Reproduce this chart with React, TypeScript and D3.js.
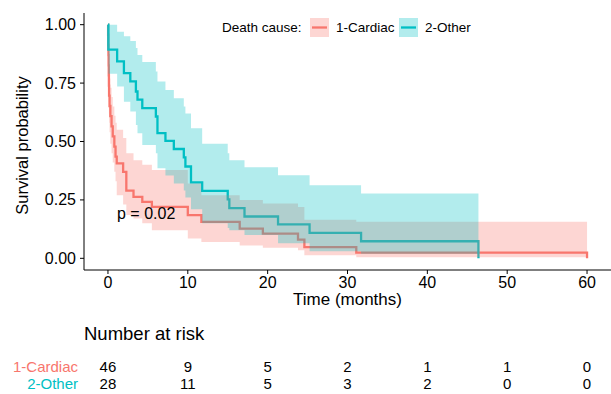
import * as d3 from "d3";

// Kaplan-Meier steps
const cardiacTime = [0, 0.02, 0.04, 0.06, 0.08, 0.1, 0.12, 0.14, 0.2, 0.3, 0.45, 0.6, 0.8, 0.95, 1.1, 1.9, 2.3, 3.2, 4.3, 5.5, 10.0, 11.7, 16.5, 19.4, 23.8, 24.6, 31.1, 60];
const cardiacSurv = [1, 0.957, 0.913, 0.87, 0.826, 0.783, 0.739, 0.696, 0.652, 0.609, 0.565, 0.522, 0.478, 0.435, 0.406, 0.37, 0.29, 0.263, 0.242, 0.22, 0.185, 0.156, 0.127, 0.106, 0.08, 0.048, 0.024, 0];
const cardiacUpper = [1, 1, 0.99, 0.96, 0.92, 0.88, 0.84, 0.81, 0.77, 0.73, 0.69, 0.65, 0.61, 0.58, 0.55, 0.515, 0.45, 0.42, 0.4, 0.378, 0.32, 0.27, 0.25, 0.235, 0.22, 0.165, 0.156, 0.156];
const cardiacLower = [1, 0.9, 0.83, 0.77, 0.72, 0.67, 0.62, 0.58, 0.54, 0.49, 0.45, 0.41, 0.37, 0.33, 0.27, 0.23, 0.185, 0.17, 0.15, 0.12, 0.085, 0.07, 0.055, 0.045, 0.035, 0.013, 0.005, 0];

const otherTime = [0, 0.05, 1.15, 2.0, 2.8, 3.5, 3.7, 4.3, 6.0, 6.2, 7.2, 8.25, 9.5, 9.7, 10.4, 11.8, 15.0, 15.2, 17.1, 21.3, 25.25, 31.7, 46.4];
const otherSurv = [1, 0.893, 0.843, 0.793, 0.757, 0.714, 0.679, 0.643, 0.607, 0.536, 0.503, 0.468, 0.432, 0.393, 0.325, 0.289, 0.252, 0.215, 0.179, 0.145, 0.109, 0.073, 0];
const otherUpper = [1, 1, 0.97, 0.95, 0.93, 0.9, 0.87, 0.84, 0.8, 0.757, 0.72, 0.685, 0.65, 0.62, 0.557, 0.49, 0.45, 0.42, 0.39, 0.356, 0.313, 0.277, 0.277];
const otherLower = [1, 0.79, 0.735, 0.67, 0.628, 0.571, 0.535, 0.485, 0.45, 0.385, 0.355, 0.32, 0.29, 0.26, 0.21, 0.15, 0.13, 0.12, 0.1, 0.065, 0.03, 0.02, 0];

const riskTimes = [0, 10, 20, 30, 40, 50, 60];
const cardiacRisk = [46, 9, 5, 2, 1, 1, 0];
const otherRisk = [28, 11, 5, 3, 2, 0, 0];

const yTicks = [0, 0.25, 0.5, 0.75, 1];

const RED = "#F8766D";
const TEAL = "#00BFC4";
const FONT = "'Liberation Sans', Arial, sans-serif";

const W = 611;
const H = 394;
const M = { left: 84, right: 611, top: 13, bottom: 270 };

function group(time: number[], surv: number[], lo: number[], hi: number[]) {
  return time.map((t, i) => ({ t, s: surv[i], lo: lo[i], hi: hi[i] }));
}

export default function App() {
  const x = d3.scaleLinear().domain([-3, 63]).range([M.left, M.right]);
  const y = d3.scaleLinear().domain([-0.05, 1.05]).range([M.bottom, M.top]);

  const groups = [
    { name: "1-Cardiac", color: RED, pts: group(cardiacTime, cardiacSurv, cardiacLower, cardiacUpper), risk: cardiacRisk },
    { name: "2-Other", color: TEAL, pts: group(otherTime, otherSurv, otherLower, otherUpper), risk: otherRisk },
  ];

  const line = d3
    .line<{ t: number; s: number }>()
    .x((d) => x(d.t))
    .y((d) => y(d.s))
    .curve(d3.curveStepAfter);

  const area = d3
    .area<{ t: number; lo: number; hi: number }>()
    .x((d) => x(d.t))
    .y0((d) => y(d.lo))
    .y1((d) => y(d.hi))
    .curve(d3.curveStepAfter);

  return (
    <svg width={W} height={H} style={{ position: "absolute", left: 0, top: 0 }} fontFamily={FONT}>
      <rect width={W} height={H} fill="white" />
      {/* lines first, ribbons drawn over them like survminer does */}
      {groups.map((g) => (
        <path key={g.name + "l"} d={line(g.pts) || ""} fill="none" stroke={g.color} strokeWidth={2.3} />
      ))}
      {groups.map((g) => (
        <path key={g.name + "a"} d={area(g.pts) || ""} fill={g.color} fillOpacity={0.3} stroke="none" />
      ))}

      {/* axes */}
      <line x1={M.left} x2={M.left} y1={M.top} y2={M.bottom} stroke="black" strokeWidth={1} />
      <line x1={M.left} x2={M.right} y1={M.bottom} y2={M.bottom} stroke="black" strokeWidth={1} />
      {yTicks.map((v) => (
        <g key={v}>
          <line x1={M.left - 4} x2={M.left} y1={y(v)} y2={y(v)} stroke="black" />
          <text x={M.left - 8} y={y(v)} textAnchor="end" dominantBaseline="central" fontSize={16}>
            {v.toFixed(2)}
          </text>
        </g>
      ))}
      {riskTimes.map((v) => (
        <g key={v}>
          <line x1={x(v)} x2={x(v)} y1={M.bottom} y2={M.bottom + 4} stroke="black" />
          <text x={x(v)} y={M.bottom + 12} textAnchor="middle" dominantBaseline="central" fontSize={16}>
            {v}
          </text>
        </g>
      ))}
      <text x={(M.left + M.right) / 2} y={299} textAnchor="middle" dominantBaseline="central" fontSize={17}>
        Time (months)
      </text>
      <text
        transform={`translate(22,${(M.top + M.bottom) / 2 + 4}) rotate(-90)`}
        textAnchor="middle"
        dominantBaseline="central"
        fontSize={16.5}
      >
        Survival probability
      </text>

      <text x={117} y={213} dominantBaseline="central" fontSize={16}>
        p = 0.02
      </text>

      {/* legend */}
      <text x={222} y={27} dominantBaseline="central" fontSize={13.5}>
        Death cause:
      </text>
      {groups.map((g, i) => {
        const kx = i === 0 ? 310 : 399;
        return (
          <g key={g.name + "k"}>
            <rect x={kx} y={18} width={19} height={19} fill={g.color} fillOpacity={0.3} />
            <line x1={kx + 2} x2={kx + 17} y1={27.5} y2={27.5} stroke={g.color} strokeWidth={2.3} />
            <text x={kx + 26} y={27} dominantBaseline="central" fontSize={13.5}>
              {g.name}
            </text>
          </g>
        );
      })}

      {/* risk table */}
      <text x={84} y={333} dominantBaseline="central" fontSize={18.5}>
        Number at risk
      </text>
      {groups.map((g, i) => {
        const ry = i === 0 ? 366 : 383;
        return (
          <g key={g.name + "r"}>
            <text x={78} y={ry} textAnchor="end" dominantBaseline="central" fontSize={15} fill={g.color}>
              {g.name}
            </text>
            {g.risk.map((n, j) => (
              <text key={j} x={x(riskTimes[j])} y={ry} textAnchor="middle" dominantBaseline="central" fontSize={15}>
                {n}
              </text>
            ))}
          </g>
        );
      })}
    </svg>
  );
}
